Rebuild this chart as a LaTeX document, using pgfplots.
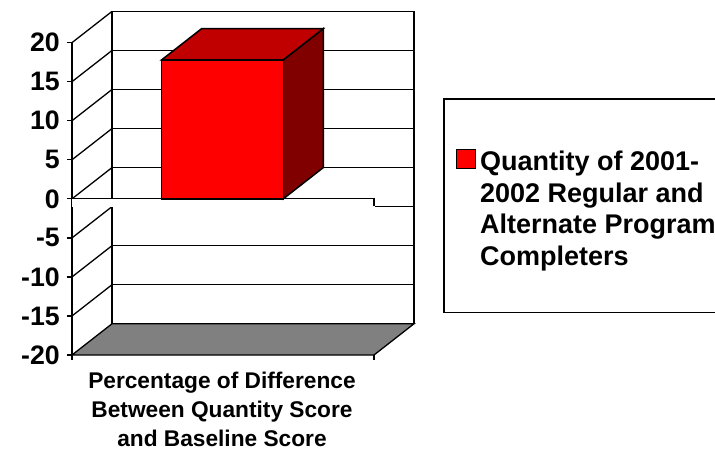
\documentclass[border=0pt]{standalone}
\usepackage{pgfplots}
\pgfplotsset{compat=1.18}
\usepackage{fontspec}
\setmainfont{Liberation Sans}
\definecolor{barfront}{RGB}{255,0,0}
\definecolor{bartop}{RGB}{192,0,0}
\definecolor{barside}{RGB}{128,0,0}
\definecolor{floorgray}{RGB}{128,128,128}

\begin{document}
\begin{tikzpicture}
\path[use as bounding box] (0pt,0pt) rectangle (715pt,453pt);
\begin{axis}[
    at={(72pt,98pt)}, anchor=south west,
    scale only axis,
    width=342pt, height=343.6pt,
    xmin=0, xmax=342, ymin=-20, ymax=24,
    clip=false,
    axis line style={draw=none},
    tick pos=left, tick align=outside,
    major tick length=5pt,
    tick style={black, line width=1.3pt},
    xtick={0,302}, xticklabels={},
    ytick={-20,-15,...,20},
    yticklabels={-20,-15,-10,-5,0,5,10,15,20},
    yticklabel style={font=\fontsize{26.7}{30}\selectfont\bfseries, inner sep=0pt, xshift=-7pt},
    xlabel={Percentage of Difference\\Between Quantity Score\\and Baseline Score},
    xlabel style={at={(axis cs:150,-20)}, anchor=north, yshift=-17pt, inner sep=0pt,
        align=center, font=\fontsize{22.7}{29}\selectfont\bfseries},
    legend style={at={(axis cs:371,12.9)}, anchor=north west, draw=black, line width=1.6pt,
        inner xsep=12pt, inner ysep=46pt,
        nodes={inner sep=0pt},
        font=\fontsize{27}{31.4}\selectfont\bfseries, column sep=4pt},
    legend cell align=left,
]
% back wall grid
\addplot[black, line width=1.3pt, forget plot] coordinates {(40,-16) (342,-16)};
\addplot[black, line width=1.3pt, forget plot] coordinates {(40,-11) (342,-11)};
\addplot[black, line width=1.3pt, forget plot] coordinates {(40,-6) (342,-6)};
\addplot[black, line width=1.3pt, forget plot] coordinates {(40,-1) (342,-1)};
\addplot[black, line width=1.3pt, forget plot] coordinates {(40,4) (342,4)};
\addplot[black, line width=1.3pt, forget plot] coordinates {(40,9) (342,9)};
\addplot[black, line width=1.3pt, forget plot] coordinates {(40,14) (342,14)};
\addplot[black, line width=1.3pt, forget plot] coordinates {(40,19) (342,19)};
\addplot[black, line width=1.3pt, forget plot] coordinates {(40,24) (342,24)};
\addplot[black, line width=1.3pt, forget plot] coordinates {(40,-16) (40,24)};
\addplot[black, line width=1.3pt, forget plot] coordinates {(342,-16) (342,24)};
% left wall
\addplot[black, line width=1.3pt, forget plot] coordinates {(0,-15) (40,-11)};
\addplot[black, line width=1.3pt, forget plot] coordinates {(0,-10) (40,-6)};
\addplot[black, line width=1.3pt, forget plot] coordinates {(0,-5) (40,-1)};
\addplot[black, line width=1.3pt, forget plot] coordinates {(0,0) (40,4)};
\addplot[black, line width=1.3pt, forget plot] coordinates {(0,5) (40,9)};
\addplot[black, line width=1.3pt, forget plot] coordinates {(0,10) (40,14)};
\addplot[black, line width=1.3pt, forget plot] coordinates {(0,15) (40,19)};
\addplot[black, line width=1.3pt, forget plot] coordinates {(0,20) (40,24)};
\addplot[black, line width=1.5pt, forget plot] coordinates {(0,-20) (0,20)};
% floor
\addplot[fill=floorgray, draw=black, line width=1.3pt, forget plot]
    coordinates {(0,-20) (302,-20) (342,-16) (40,-16)} --cycle;
% zero plane edge
\addplot[white, fill=white, forget plot] coordinates {(0,0) (302,0) (302,-0.9) (0,-0.9)} --cycle;
\addplot[black, line width=1.3pt, forget plot] coordinates {(0,0) (302,0) (302,-0.9)};
% bar
\addplot[fill=barside, draw=black, line width=1.5pt, forget plot]
    coordinates {(211.3,0) (251.3,4) (251.3,21.8) (211.3,17.8)} --cycle;
\addplot[fill=bartop, draw=black, line width=1.5pt, forget plot]
    coordinates {(89.7,17.8) (211.3,17.8) (251.3,21.8) (129.7,21.8)} --cycle;
\addplot[fill=barfront, draw=black, line width=1.5pt,
    legend image code/.code={\draw[fill=barfront, draw=black, line width=1.3pt] (0pt,37.3pt) rectangle (19pt,56.3pt);}]
    coordinates {(89.7,0) (211.3,0) (211.3,17.8) (89.7,17.8)} --cycle;
\addlegendentry{\begin{tabular}[b]{@{}l@{}}\rule{0pt}{26pt}Quantity of 2001-\\2002 Regular and\\Alternate Program\\Completers\end{tabular}}
\end{axis}
\end{tikzpicture}
\end{document}
